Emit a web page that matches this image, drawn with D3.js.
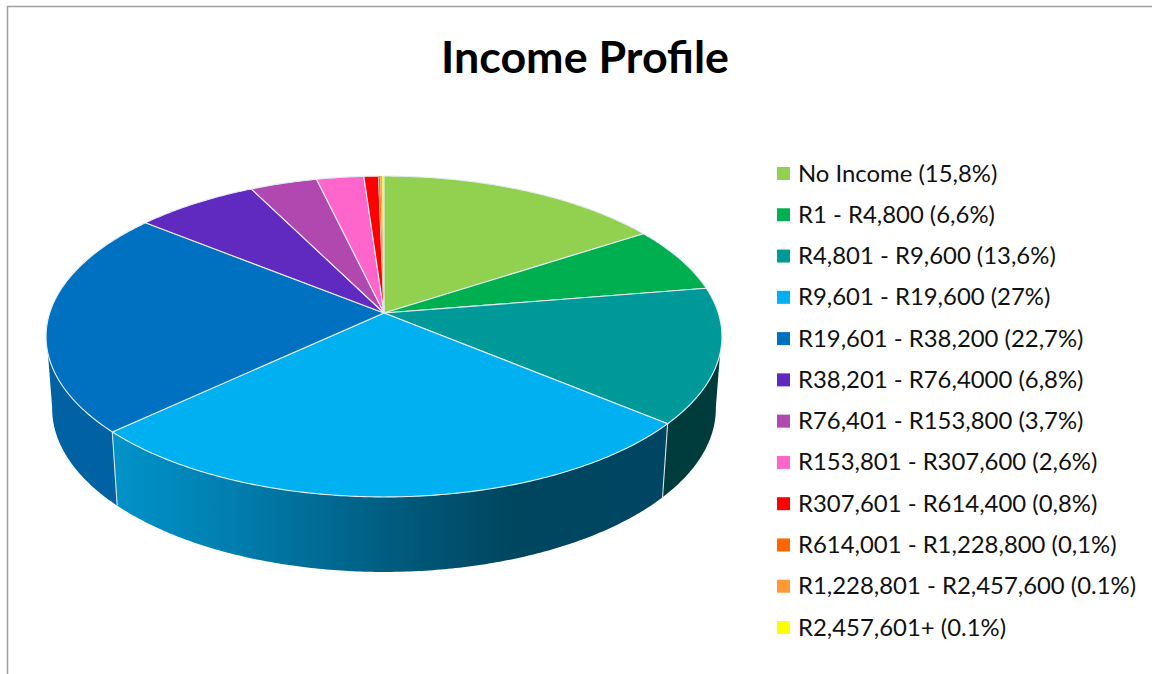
<!DOCTYPE html>
<html><head><meta charset="utf-8">
<script src="https://cdn.jsdelivr.net/npm/d3@7"></script>
<style>html,body{margin:0;padding:0;background:#fff;overflow:hidden}svg{display:block}</style>
</head><body><svg id="c" width="1152" height="674"></svg>
<script>
const categories=["No Income (15,8%)","R1 - R4,800 (6,6%)","R4,801 - R9,600 (13,6%)","R9,601 - R19,600 (27%)","R19,601 - R38,200 (22,7%)","R38,201 - R76,4000 (6,8%)","R76,401 - R153,800 (3,7%)","R153,801 - R307,600 (2,6%)","R307,601 - R614,400 (0,8%)","R614,001 - R1,228,800 (0,1%)","R1,228,801 - R2,457,600 (0.1%)","R2,457,601+ (0.1%)"];
const values=[15.8,6.6,13.6,27,22.7,6.8,3.7,2.6,0.8,0.1,0.1,0.1];
const colors=["#92d050","#00b050","#009999","#00b0f0","#0070c0","#6029c0","#b048b0","#ff66cc","#ff0000","#ff6600","#ff9933","#ffff00"];
const titleText="Income Profile";

const svg=d3.select("#c");
const FONT="Lato, Carlito, Calibri, sans-serif";

// perspective projection of the pie disc
const P=0.1464, R=334.3, CX=384;
const topPlane={s:1,k:157,y0:313}, botPlane={s:0.982,k:160,y0:384.5};
const project=(a,pl)=>{const x=Math.sin(a),y=-Math.cos(a),w=1/(1-P*y);
  return [CX+pl.s*R*x*w, pl.y0+pl.k*y*w];};
const arcPts=(a0,a1,pl)=>{const n=Math.max(2,Math.ceil(Math.abs(a1-a0)/0.01));
  return d3.range(n+1).map(i=>project(a0+(a1-a0)*i/n,pl));};
const line=d3.line();

const arcs=d3.pie().sort(null).value(d=>d)(values);

// frame
svg.append("path").attr("d","M7.5,674V6.5H1152").attr("fill","none").attr("stroke","#a0a0a0").attr("stroke-width",1.5);

// side gradients
const defs=svg.append("defs");
const sideFill={};
function grad(id,i,stops){
  const g=defs.append("linearGradient").attr("id",id).attr("gradientUnits","userSpaceOnUse")
    .attr("x1",project(arcs[i].endAngle,topPlane)[0]).attr("x2",project(arcs[i].startAngle,topPlane)[0]).attr("y1",0).attr("y2",0);
  stops.forEach(s=>g.append("stop").attr("offset",s[0]).attr("stop-color",s[1]));
  sideFill[i]=`url(#${id})`;
}
grad("gBlue",3,[[0,"#0093c9"],[0.21,"#007fb0"],[0.52,"#005a7c"],[0.72,"#00465f"],[1,"#004664"]]);
sideFill[4]="#0061a3"; sideFill[2]="#003c3c";

// visible part of the rim (the lower outline reaches slightly further round)
const deg=Math.PI/180;
const rimStart=104.3*deg, rimEnd=255.7*deg, botStart=98*deg, botEnd=262*deg;
const g3=svg.append("g");
[4,3,2].forEach(i=>{
  const a0=Math.max(arcs[i].startAngle,rimStart), a1=Math.min(arcs[i].endAngle,rimEnd);
  const b0=Math.max(arcs[i].startAngle,botStart), b1=Math.min(arcs[i].endAngle,botEnd);
  const pts=arcPts(a0,a1,topPlane).concat(arcPts(b1,b0,botPlane));
  g3.append("path").attr("d",line(pts)+"Z").attr("fill",sideFill[i]);
});
// rim dividers
[arcs[3].startAngle,arcs[3].endAngle].forEach(a=>{
  g3.append("path").attr("d",line([project(a,topPlane),project(a,botPlane)]))
    .attr("stroke","#d5e3ea").attr("stroke-width",1.1).attr("fill","none");
});

// top face
svg.append("g").selectAll("path").data(arcs).join("path")
  .attr("d",d=>line([[CX,topPlane.y0]].concat(arcPts(d.startAngle,d.endAngle,topPlane)))+"Z")
  .attr("fill",(d,i)=>colors[i])
  .attr("stroke","#e4edf2").attr("stroke-width",d=>d.value<0.5?0.25:1.1).attr("stroke-linejoin","round");

// title
svg.append("text").attr("x",585).attr("y",73).attr("text-anchor","middle")
  .attr("font-family",FONT).attr("font-weight",700).attr("font-size",44.8).attr("fill","#000").text(titleText);

// legend
const rowY=d3.scaleLinear().domain([0,categories.length-1]).range([173.5,627.5]);
const lg=svg.append("g").selectAll("g").data(categories).join("g").attr("transform",(d,i)=>`translate(777,${rowY(i)})`);
lg.append("rect").attr("x",0).attr("y",-6.5).attr("width",13).attr("height",13).attr("fill",(d,i)=>colors[i]);
lg.append("text").attr("x",21).attr("y",8).attr("font-family",FONT).attr("font-size",23.9).attr("fill","#111").text(d=>d);
</script></body></html>
